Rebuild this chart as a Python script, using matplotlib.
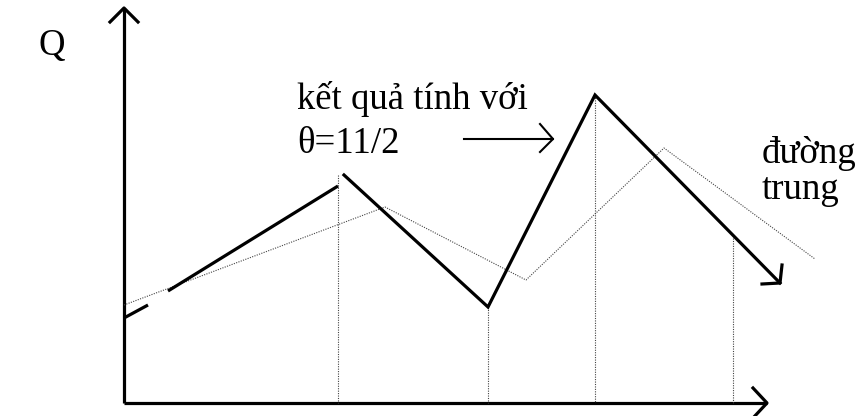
import matplotlib.pyplot as plt

plt.rcParams['font.family'] = ['Liberation Serif', 'DejaVu Serif']

# sơ đồ vẽ theo toạ độ điểm ảnh (gốc ở góc trên trái)
# đường tính với theta = 11/2 (nét liền)
kq1_x = [124, 148]
kq1_y = [318, 305]
kq2_x = [168, 338]
kq2_y = [291, 186]
kq3_x = [344, 488, 595, 780]
kq3_y = [175, 307, 95, 283]

# đường trung bình (nét chấm)
tb_x = [124, 385, 526, 664, 815]
tb_y = [305, 207, 280, 148, 259]

# các đường gióng thẳng đứng
gio_x = [338, 488, 595, 733]
gio_top = [175, 307, 95, 238]
truc_y0 = 403

fig = plt.figure(figsize=(8.59, 4.16), dpi=100)
ax = fig.add_axes([0, 0, 1, 1])
ax.set_xlim(0, 859)
ax.set_ylim(416, 0)
ax.axis('off')

lw_dam = 2.3
# trục toạ độ
ax.plot([124, 124], [truc_y0, 8], color='black', lw=lw_dam, solid_capstyle='butt')
ax.plot([110, 124, 138], [22, 8, 22], color='black', lw=lw_dam)
ax.plot([124, 767], [truc_y0, truc_y0], color='black', lw=lw_dam, solid_capstyle='butt')
ax.plot([753, 767, 753], [388, 403, 418], color='black', lw=lw_dam)

# đường gióng
for x, y in zip(gio_x, gio_top):
    ax.plot([x, x], [y, truc_y0], color='#444444', lw=0.8, dashes=(1, 1.2))

# đường trung bình
ax.plot(tb_x, tb_y, color='#444444', lw=0.8, dashes=(1, 1.2))

# kết quả tính
ax.plot(kq1_x, kq1_y, color='black', lw=lw_dam, solid_capstyle='butt')
ax.plot(kq2_x, kq2_y, color='black', lw=lw_dam, solid_capstyle='butt')
ax.plot(kq3_x, kq3_y, color='black', lw=lw_dam, solid_joinstyle='miter')
ax.plot([782, 780, 762], [265, 283, 284], color='black', lw=lw_dam)

# mũi tên chú thích
ax.plot([464, 553], [139, 139], color='black', lw=1.5)
ax.plot([540, 553, 540], [124, 139, 152], color='black', lw=1.5)

fs = 26.5
ax.text(38, 55, 'Q', fontsize=fs, va='baseline')
ax.text(297, 109, 'kết quả tính với', fontsize=fs, va='baseline')
ax.text(297, 153, 'θ=11/2', fontsize=fs, va='baseline')
ax.text(762, 163, 'đường', fontsize=fs, va='baseline')
ax.text(762, 199, 'trung', fontsize=fs, va='baseline')

fig.savefig('out.png', dpi=100)
